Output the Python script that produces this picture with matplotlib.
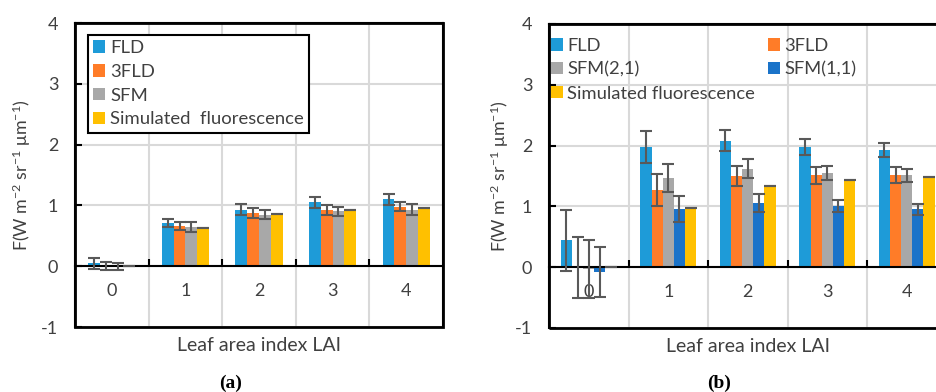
import matplotlib
matplotlib.use('Agg')
import matplotlib.pyplot as plt
from matplotlib.patches import Rectangle
import numpy as np

plt.rcParams['font.family'] = ['Lato', 'DejaVu Sans']
plt.rcParams['mathtext.fontset'] = 'custom'
plt.rcParams['mathtext.rm'] = 'Lato'
plt.rcParams['mathtext.it'] = 'Lato'
plt.rcParams['axes.unicode_minus'] = False

# LAI categories
lai = [0, 1, 2, 3, 4]

# panel (a) values and errors
a_fld = [0.05, 0.71, 0.93, 1.05, 1.10]
a_fld_err = [0.09, 0.07, 0.09, 0.09, 0.09]
a_3fld = [0.0, 0.66, 0.87, 0.93, 0.98]
a_3fld_err = [0.07, 0.07, 0.08, 0.08, 0.08]
a_sfm = [0.0, 0.64, 0.85, 0.90, 0.93]
a_sfm_err = [0.06, 0.08, 0.08, 0.08, 0.09]
a_sim = [0.0, 0.63, 0.86, 0.93, 0.95]

# panel (b) values and errors
b_fld = [0.44, 1.98, 2.08, 1.98, 1.93]
b_fld_err = [0.50, 0.26, 0.17, 0.13, 0.11]
b_3fld = [0.0, 1.27, 1.50, 1.51, 1.51]
b_3fld_err = [0.50, 0.27, 0.17, 0.14, 0.13]
b_sfm21 = [-0.03, 1.47, 1.62, 1.55, 1.51]
b_sfm21_err = [0.48, 0.23, 0.16, 0.12, 0.11]
b_sfm11 = [-0.08, 0.96, 1.05, 1.00, 0.95]
b_sfm11_err = [0.41, 0.21, 0.15, 0.10, 0.09]
b_sim = [0.0, 0.97, 1.34, 1.43, 1.48]

c_fld = '#1E9BD8'
c_3fld = '#FF7C28'
c_sfm = '#A8A8A8'
c_sfm11 = '#1A73C9'
c_sim = '#FFC000'
c_err = '#595959'
c_grid = '#D9D9D9'
c_text = '#404040'

fig = plt.figure(figsize=(9.36, 3.92), dpi=100)
W, H = 936, 392
ax_a = fig.add_axes([75 / W, 65 / H, 368 / W, 304 / H])
ax_b = fig.add_axes([549 / W, 64 / H, 397.5 / W, 304 / H])


def style_axes(ax):
    ax.set_xlim(-0.5, 4.5)
    ax.set_ylim(-1, 4)
    ax.set_axisbelow(True)
    ax.spines['bottom'].set_position(('data', 0))
    for s in ax.spines.values():
        s.set_linewidth(1.5)
    ax.add_patch(Rectangle((0, 0), 1, 1, transform=ax.transAxes, fill=False,
                           edgecolor='black', linewidth=2, clip_on=False, zorder=5))
    ax.set_xticks(lai)
    ax.set_xticklabels([str(v) for v in lai])
    ax.set_xticks([v + 0.5 for v in lai[:-1]], minor=True)
    ax.tick_params(axis='x', which='major', length=0, pad=12, labelsize=13, colors=c_text)
    ax.tick_params(axis='x', which='minor', direction='in', length=5, width=1.5)
    ax.set_yticks([-1, 0, 1, 2, 3, 4])
    ax.tick_params(axis='y', direction='in', length=5, width=1.5, pad=12,
                   labelsize=13, labelcolor=c_text)
    ax.grid(True, axis='x', which='minor', color=c_grid, linewidth=1.5)
    ax.grid(True, axis='y', which='major', color=c_grid, linewidth=1.5)
    ax.text(0.5, -0.06, 'Leaf area index LAI', transform=ax.transAxes,
            ha='center', va='center', fontsize=14, color=c_text)


def draw_bars(ax, series, width):
    x = np.arange(len(lai))
    n = len(series)
    handles = []
    for i, (vals, errs, col, lab) in enumerate(series):
        pos = x + (i - (n - 1) / 2) * width
        b = ax.bar(pos, vals, width, color=col, label=lab, zorder=2)
        if errs is not None:
            ax.errorbar(pos, vals, yerr=errs, fmt='none', ecolor=c_err,
                        elinewidth=1.5, capsize=4, capthick=1.5, zorder=3)
        handles.append(b)
    return handles


style_axes(ax_a)
ha = draw_bars(ax_a, [
    (a_fld, a_fld_err, c_fld, 'FLD'),
    (a_3fld, a_3fld_err, c_3fld, '3FLD'),
    (a_sfm, a_sfm_err, c_sfm, 'SFM'),
    (a_sim, [0, 0, 0, 0, 0], c_sim, 'Simulated  fluorescence'),
], 0.16)
leg = ax_a.legend(handles=ha, loc='upper left', bbox_to_anchor=(0.035, 0.962),
                  fontsize=13.3, frameon=True, fancybox=False, framealpha=1,
                  edgecolor='black', handlelength=0.65, handleheight=0.65,
                  handletextpad=0.25, labelspacing=0.42, borderpad=0.3,
                  borderaxespad=0)
leg.get_frame().set_linewidth(1.5)
for t in leg.get_texts():
    t.set_color(c_text)
ax_a.text(-0.144, 0.5, r'F(W m$^{-2}$ sr$^{-1}$ μm$^{-1}$)', rotation=90,
          transform=ax_a.transAxes, ha='center', va='center', fontsize=12.8, color=c_text)

style_axes(ax_b)
hb = draw_bars(ax_b, [
    (b_fld, b_fld_err, c_fld, 'FLD'),
    (b_3fld, b_3fld_err, c_3fld, '3FLD'),
    (b_sfm21, b_sfm21_err, c_sfm, 'SFM(2,1)'),
    (b_sfm11, b_sfm11_err, c_sfm11, 'SFM(1,1)'),
    (b_sim, [0, 0, 0, 0, 0], c_sim, 'Simulated fluorescence'),
], 0.14)
order = [0, 2, 4, 1, 3]
leg2 = ax_b.legend(handles=[hb[i] for i in order], loc='upper left',
                   bbox_to_anchor=(0.0, 0.96), ncol=2, fontsize=13.2, frameon=False,
                   handlelength=0.65, handleheight=0.65, handletextpad=0.25,
                   labelspacing=0.42, columnspacing=0.7, borderaxespad=0, borderpad=0.1)
for t in leg2.get_texts():
    t.set_color(c_text)
ax_b.text(-0.123, 0.5, r'F(W m$^{-2}$ sr$^{-1}$ μm$^{-1}$)', rotation=90,
          transform=ax_b.transAxes, ha='center', va='center', fontsize=12.8, color=c_text)

fig.text(231 / W, 1 - 383 / H, '(a)', ha='center', va='center',
         family='Liberation Serif', fontweight='bold', fontsize=14)
fig.text(719 / W, 1 - 383 / H, '(b)', ha='center', va='center',
         family='Liberation Serif', fontweight='bold', fontsize=14)

fig.savefig('out.png', dpi=100)
